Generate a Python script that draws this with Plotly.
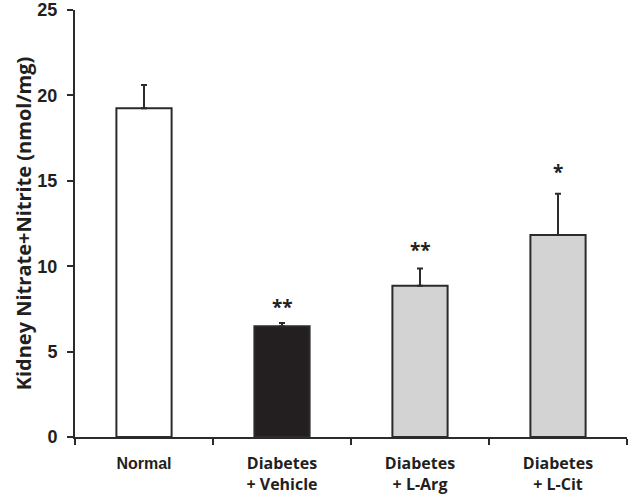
import plotly.graph_objects as go

categories = ["Normal", "Diabetes<br>+ Vehicle", "Diabetes<br>+ L-Arg", "Diabetes<br>+ L-Cit"]
values = [19.25, 6.48, 8.86, 11.83]
errors = [1.36, 0.2, 1.0, 2.41]
bar_colors = ["#ffffff", "#231f20", "#d3d3d3", "#d3d3d3"]
sig_labels = ["", "**", "**", "*"]
sig_y = [None, 7.72, 11.05, 15.62]
y_ticks = [0, 5, 10, 15, 20, 25]

ink = "#2b2b2b"

tick_text = []
for c in categories:
    if c == "Normal":
        tick_text.append("<span style='font-family:Liberation Sans'>" + c + "</span>")
    else:
        tick_text.append(c)

fig = go.Figure()
fig.add_trace(go.Bar(
    x=categories, y=values, width=0.4,
    marker=dict(color=bar_colors, line=dict(color=ink, width=2)),
    error_y=dict(type="data", array=errors, arrayminus=[0]*4, symmetric=False,
                 color=ink, thickness=2, width=3),
    showlegend=False,
))

for c, lab, yy in zip(categories, sig_labels, sig_y):
    if lab:
        fig.add_annotation(x=c, y=yy, text="<b>" + lab + "</b>", showarrow=False,
                           font=dict(family="Open Sans", size=19, color="#231f20"),
                           yanchor="middle", xanchor="center", yshift=-2)

fig.update_layout(
    width=628, height=497,
    margin=dict(l=75, r=1, t=10, b=60),
    paper_bgcolor="white", plot_bgcolor="white",
    xaxis=dict(
        type="category", range=[-0.5, 3.5],
        tickvals=categories, ticktext=tick_text,
        showline=True, linecolor=ink, linewidth=2,
        ticks="outside", ticklen=6, tickcolor=ink, tickwidth=2,
        showgrid=False, zeroline=False, automargin=False,
        tickfont=dict(family="Open Sans", size=16, color="#231f20", weight="bold"),
        tickson="boundaries", ticklabelstandoff=11,
    ),
    yaxis=dict(
        range=[0, 25], tickvals=y_ticks,
        showline=True, linecolor=ink, linewidth=2,
        ticks="outside", ticklen=6, tickcolor=ink, tickwidth=2,
        showgrid=False, zeroline=False, automargin=False,
        ticklabeloverflow="allow", ticklabelstandoff=6,
        tickfont=dict(family="Liberation Sans", size=18, color="#231f20", weight="bold"),
        title=dict(text="Kidney Nitrate+Nitrite (nmol/mg)",
                   font=dict(family="Open Sans", size=20, color="#231f20", weight="bold"),
                   standoff=0),
    ),
)

fig.write_html("out.html", config={"displayModeBar": False},
               post_script="document.body.style.margin='0';")
